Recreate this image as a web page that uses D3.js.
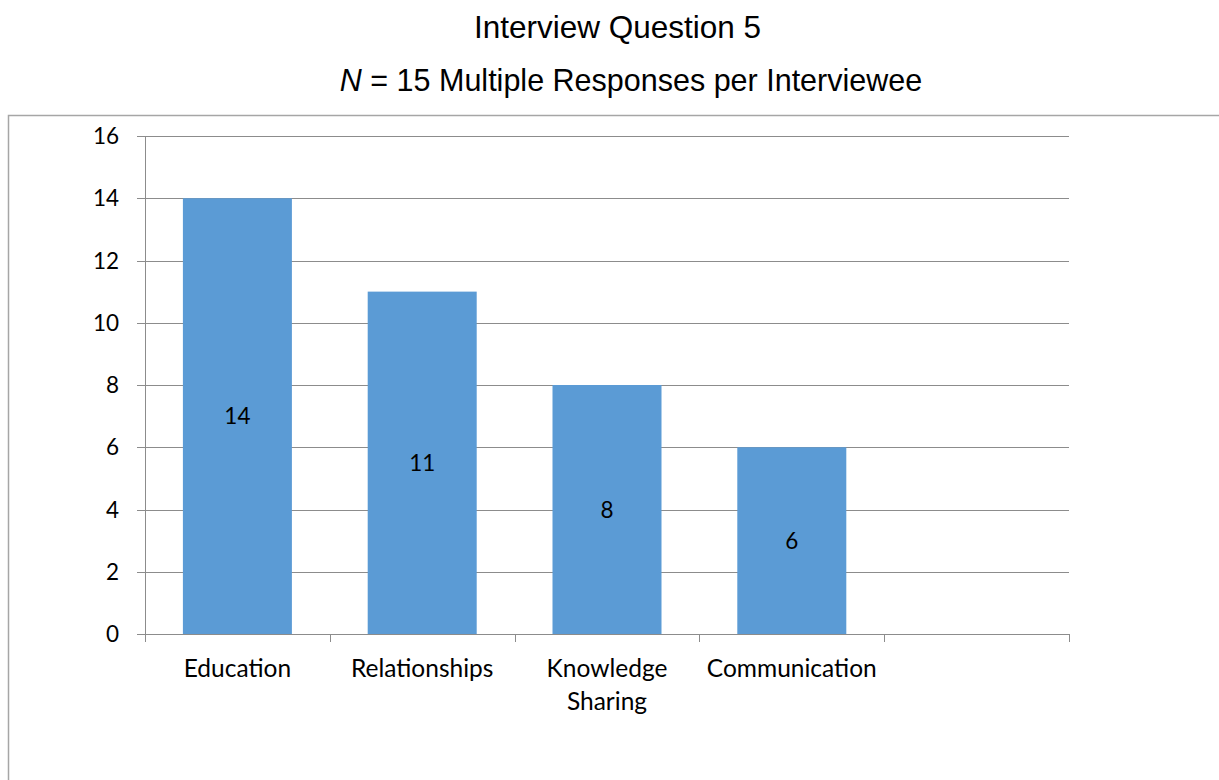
<!DOCTYPE html>
<html><head><meta charset="utf-8">
<script src="https://cdn.jsdelivr.net/npm/d3@7"></script>
<style>body{margin:0;background:#fff}svg{display:block}</style>
</head><body>
<svg id="c" width="1219" height="780"></svg>
<script>
const categories = ["Education", "Relationships", "Knowledge Sharing", "Communication", ""];
const values = [14, 11, 8, 6, null];
const yTicks = [0, 2, 4, 6, 8, 10, 12, 14, 16];

const svg = d3.select("#c");
const m = {left:145, right:1069, top:136, bottom:634};

// outer border
svg.append("path").attr("d", `M1219.5,115.5 H8.5 V780`).attr("fill","none").attr("stroke","#a6a6a6").attr("stroke-width",1.5);

svg.append("text").attr("x",617.5).attr("y",38).attr("text-anchor","middle")
  .style("font-family","'Liberation Sans', Arial").style("font-size","31.5px").text("Interview Question 5");
const sub = svg.append("text").attr("x",631).attr("y",91).attr("text-anchor","middle")
  .style("font-family","'Liberation Sans', Arial").style("font-size","30.5px");
sub.append("tspan").style("font-style","italic").text("N");
sub.append("tspan").text(" = 15 Multiple Responses per Interviewee");

const x = d3.scaleBand().domain(d3.range(categories.length)).range([m.left, m.right]).paddingInner(0).paddingOuter(0);
const y = d3.scaleLinear().domain([0,16]).range([m.bottom, m.top]);

const font = "Lato, 'Noto Sans', sans-serif";

// gridlines
svg.append("g").selectAll("line").data(yTicks).join("line")
  .attr("x1", m.left-8).attr("x2", m.right)
  .attr("y1", d=>Math.round(y(d))+0.5).attr("y2", d=>Math.round(y(d))+0.5)
  .attr("stroke","#8c8c8c").attr("stroke-width",1);

// y labels
svg.append("g").selectAll("text").data(yTicks).join("text")
  .attr("x", m.left-26).attr("y", d=>y(d)).attr("dy","0.36em").attr("text-anchor","end")
  .style("font-family",font).style("font-size","22.5px").text(d=>d);

// bars
const bw = 109;
const bars = categories.map((c,i)=>({c,i,v:values[i]})).filter(d=>d.v!=null);
svg.append("g").selectAll("rect").data(bars).join("rect")
  .attr("x", d=>x(d.i)+x.bandwidth()/2-bw/2).attr("width", bw)
  .attr("y", d=>y(d.v)).attr("height", d=>y(0)-y(d.v)).attr("fill","#5b9bd5");

// value labels
svg.append("g").selectAll("text").data(bars).join("text")
  .attr("x", d=>x(d.i)+x.bandwidth()/2).attr("y", d=>(y(d.v)+y(0))/2).attr("dy","0.36em")
  .attr("text-anchor","middle").style("font-family",font).style("font-size","22.5px").text(d=>d.v);

// y axis line
svg.append("line").attr("x1",m.left+0.5).attr("x2",m.left+0.5).attr("y1",m.top).attr("y2",m.bottom)
  .attr("stroke","#8c8c8c");
// x axis line
svg.append("line").attr("x1",m.left-8).attr("x2",m.right+0.5).attr("y1",m.bottom+0.5).attr("y2",m.bottom+0.5)
  .attr("stroke","#8c8c8c");
// x ticks
const bounds = d3.range(categories.length+1).map(i=> i<categories.length ? x(i) : m.right);
svg.append("g").selectAll("line").data(bounds).join("line")
  .attr("x1",d=>Math.round(d)+0.5).attr("x2",d=>Math.round(d)+0.5).attr("y1",m.bottom).attr("y2",m.bottom+8)
  .attr("stroke","#8c8c8c");

// x labels
const xl = svg.append("g").selectAll("text").data(categories.map((c,i)=>({c,i}))).join("text")
  .attr("x", d=>x(d.i)+x.bandwidth()/2).attr("y", 677).attr("text-anchor","middle")
  .style("font-family",font).style("font-size","24.5px");
xl.each(function(d){
  const lines = d.c==="Knowledge Sharing" ? ["Knowledge","Sharing"] : [d.c];
  const t = d3.select(this);
  lines.forEach((l,k)=>t.append("tspan").attr("x", x(d.i)+x.bandwidth()/2).attr("dy", k===0?0:33).text(l));
});
</script>
</body></html>
